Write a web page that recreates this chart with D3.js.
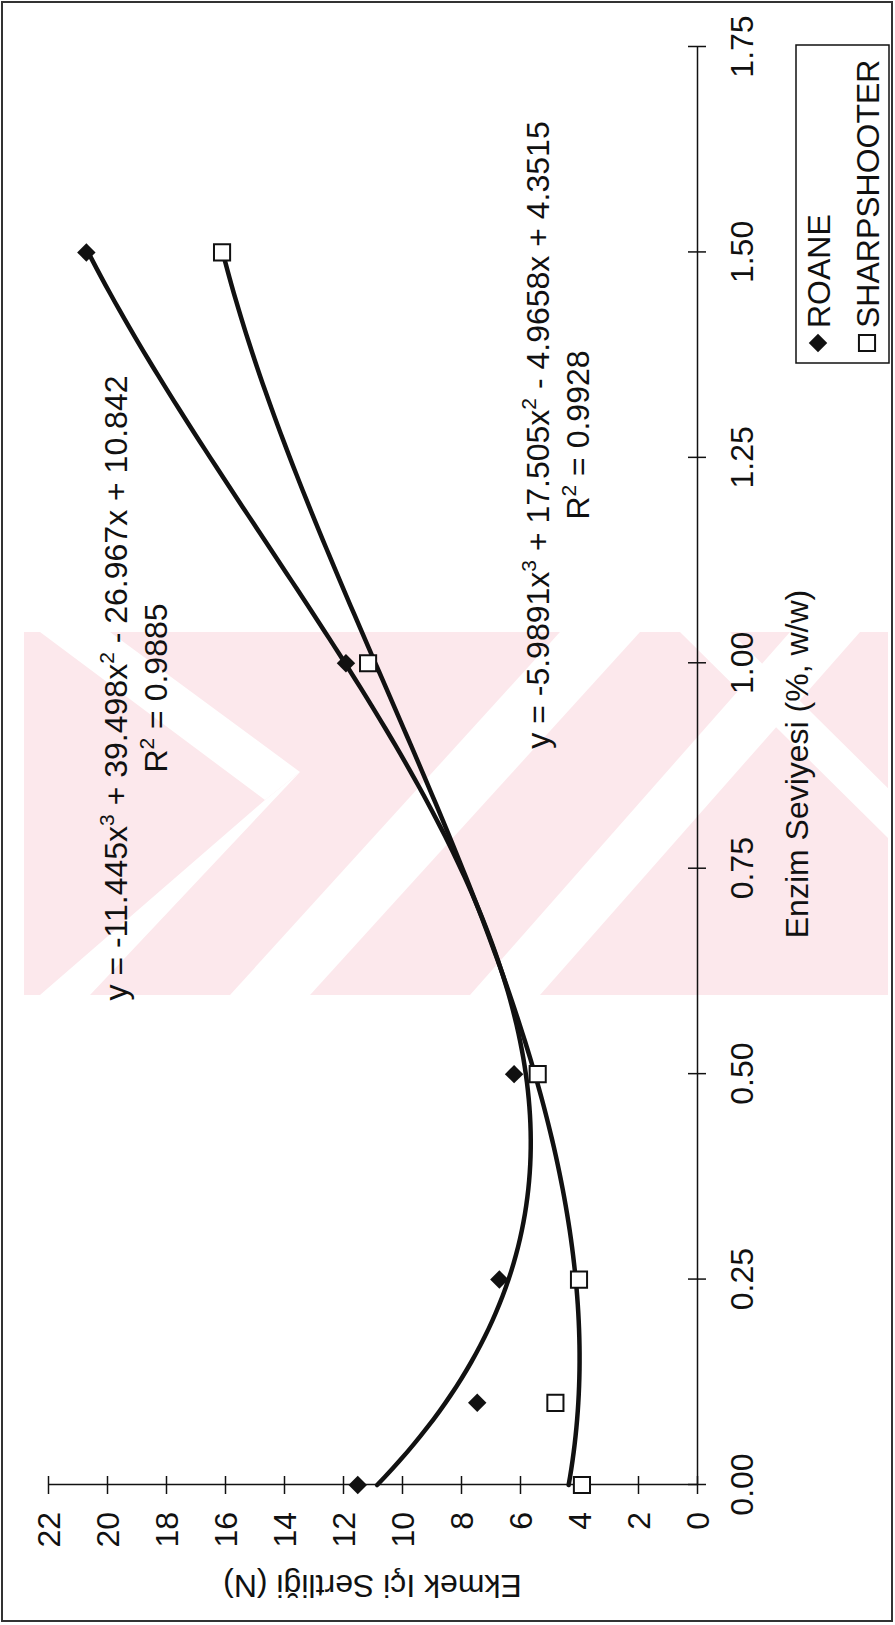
<!DOCTYPE html>
<html>
<head>
<meta charset="utf-8">
<script src="https://cdn.jsdelivr.net/npm/d3@7"></script>
<style>
  html, body { margin: 0; padding: 0; background: #fff; }
  svg { display: block; }
  text { font-family: "Liberation Sans", Arial, sans-serif; fill: #111; }
</style>
</head>
<body>
<div id="chart"></div>
<script>
// Enzyme level (% w/w) vs crumb hardness (N) for two flour varieties
const enzymeLevels = [0, 0.1, 0.25, 0.5, 1.0, 1.5];
const roaneValues = [11.5, 7.45, 6.7, 6.2, 11.9, 20.7];
const sharpshooterValues = [3.9, 4.8, 4.0, 5.4, 11.15, 16.1];

// Cubic trendline coefficients [a3, a2, a1, a0] as printed on the chart
const roaneFit = [-11.445, 39.498, -26.967, 10.842];
const sharpshooterFit = [-5.9891, 17.505, -4.9658, 4.3515];
const roaneR2 = "0.9885";
const sharpshooterR2 = "0.9928";

const xTicks = [0, 0.25, 0.5, 0.75, 1.0, 1.25, 1.5, 1.75];
const yTicks = [0, 2, 4, 6, 8, 10, 12, 14, 16, 18, 20, 22];
const seriesNames = ["ROANE", "SHARPSHOOTER"];

const W = 895, H = 1625;
const FONT = 32;

const svg = d3.select("#chart").append("svg")
  .attr("width", W).attr("height", H);

svg.append("rect").attr("width", W).attr("height", H).attr("fill", "#fff");

// faint background emblem
const wm = svg.append("g");
wm.append("clipPath").attr("id", "wmclip")
  .append("rect").attr("x", 24).attr("y", 632).attr("width", 864).attr("height", 363);
const wmg = wm.append("g").attr("clip-path", "url(#wmclip)");
wmg.append("rect").attr("x", 24).attr("y", 632).attr("width", 864).attr("height", 363).attr("fill", "#fce8ec");
const whiteBands = [
  [[40, 632], [110, 632], [300, 772], [265, 800]],
  [[265, 800], [300, 772], [90, 995], [40, 995]],
  [[560, 632], [640, 632], [310, 995], [230, 995]],
  [[790, 632], [860, 632], [540, 995], [470, 995]],
  [[680, 632], [730, 632], [900, 800], [900, 850]]
];
wmg.selectAll("path.band").data(whiteBands).join("path")
  .attr("class", "band")
  .attr("d", d => "M" + d.map(p => p.join(",")).join("L") + "Z")
  .attr("fill", "#fff");

// page border
svg.append("rect").attr("x", 2).attr("y", 2).attr("width", W - 5).attr("height", H - 6)
  .attr("fill", "none").attr("stroke", "#333").attr("stroke-width", 2);

// The chart is laid out in its own frame and turned a quarter turn counter-clockwise
const g = svg.append("g").attr("transform", `translate(0,${H}) rotate(-90)`);

const x = d3.scaleLinear().domain([0, 1.75]).range([140, 1578]);
const y = d3.scaleLinear().domain([0, 22]).range([697, 48]);

// x axis (enzyme level)
const xAxis = g.append("g").attr("transform", `translate(0,${y(0)})`)
  .call(d3.axisBottom(x).tickValues(xTicks).tickFormat(d3.format(".2f")).tickSizeInner(9).tickSizeOuter(0));
xAxis.select(".domain").attr("stroke", "#111").attr("stroke-width", 1.5);
xAxis.selectAll(".tick line").attr("y1", -9).attr("y2", 9).attr("stroke", "#111").attr("stroke-width", 1.5);
xAxis.selectAll(".tick text").attr("y", 56).attr("dy", 0)
  .style("font-size", FONT + "px").style("font-family", "Liberation Sans, Arial, sans-serif").attr("fill", "#111");

// y axis (hardness)
const yAxis = g.append("g").attr("transform", `translate(${x(0)},0)`)
  .call(d3.axisLeft(y).tickValues(yTicks).tickFormat(d3.format("d")).tickSizeInner(9).tickSizeOuter(0).tickPadding(18));
yAxis.select(".domain").attr("stroke", "#111").attr("stroke-width", 1.5);
yAxis.selectAll(".tick line").attr("x1", -9).attr("x2", 9).attr("stroke", "#111").attr("stroke-width", 1.5);
yAxis.selectAll(".tick text").attr("dy", "0.36em")
  .style("font-size", FONT + "px").style("font-family", "Liberation Sans, Arial, sans-serif").attr("fill", "#111");

// axis titles
g.append("text").attr("x", 861).attr("y", 808).attr("text-anchor", "middle")
  .style("font-size", FONT + "px").text("Enzim Seviyesi (%, w/w)");
g.append("text").attr("transform", `translate(50,${(y(0) + y(22)) / 2}) rotate(-90)`)
  .attr("text-anchor", "middle").style("font-size", FONT + "px").text("Ekmek Içi Sertliği (N)");

// trendlines
const poly = c => t => ((c[0] * t + c[1]) * t + c[2]) * t + c[3];
const fitDomain = d3.range(0, 1.5001, 0.01);
const line = d3.line().x(d => x(d[0])).y(d => y(d[1])).curve(d3.curveLinear);
[roaneFit, sharpshooterFit].forEach(c => {
  const f = poly(c);
  g.append("path").datum(fitDomain.map(t => [t, f(t)]))
    .attr("d", line).attr("fill", "none").attr("stroke", "#111")
    .attr("stroke-width", 4.5).attr("stroke-linejoin", "round").attr("stroke-linecap", "round");
});

// markers
const diamond = d3.symbol().type(d3.symbolSquare).size(170);
const square = d3.symbol().type(d3.symbolSquare).size(260);
g.selectAll("path.roane").data(enzymeLevels.map((e, i) => [e, roaneValues[i]])).join("path")
  .attr("class", "roane").attr("d", diamond)
  .attr("transform", d => `translate(${x(d[0])},${y(d[1])}) rotate(45)`)
  .attr("fill", "#111");
g.selectAll("path.sharp").data(enzymeLevels.map((e, i) => [e, sharpshooterValues[i]])).join("path")
  .attr("class", "sharp").attr("d", square)
  .attr("transform", d => `translate(${x(d[0])},${y(d[1])})`)
  .attr("fill", "#fff").attr("stroke", "#111").attr("stroke-width", 2);

// equation labels
function fmtCoef(v, first) {
  const s = Math.abs(v).toString();
  if (first) return (v < 0 ? "-" : "") + s;
  return (v < 0 ? " - " : " + ") + s;
}
function equation(c, r2, cx, by) {
  const t = g.append("text").attr("x", cx).attr("y", by).attr("text-anchor", "middle")
    .style("font-size", FONT + "px");
  t.append("tspan").text("y = " + fmtCoef(c[0], true) + "x");
  t.append("tspan").attr("dy", -13).style("font-size", "21px").text("3");
  t.append("tspan").attr("dy", 13).text(fmtCoef(c[1]) + "x");
  t.append("tspan").attr("dy", -13).style("font-size", "21px").text("2");
  t.append("tspan").attr("dy", 13).text(fmtCoef(c[2]) + "x" + fmtCoef(c[3]));
  const r = g.append("text").attr("x", cx).attr("y", by + 40).attr("text-anchor", "middle")
    .style("font-size", FONT + "px");
  r.append("tspan").text("R");
  r.append("tspan").attr("dy", -13).style("font-size", "21px").text("2");
  r.append("tspan").attr("dy", 13).text(" = " + r2);
}
equation(roaneFit, roaneR2, 937, 127);
equation(sharpshooterFit, sharpshooterR2, 1190, 549);

// legend
const lg = g.append("g");
lg.append("rect").attr("x", 1262).attr("y", 796).attr("width", 318).attr("height", 93)
  .attr("fill", "#fff").attr("stroke", "#111").attr("stroke-width", 1.5);
const rows = [818, 867];
lg.append("path").attr("d", diamond).attr("transform", `translate(1282,${rows[0]}) rotate(45)`).attr("fill", "#111");
lg.append("path").attr("d", square).attr("transform", `translate(1282,${rows[1]})`)
  .attr("fill", "#fff").attr("stroke", "#111").attr("stroke-width", 2);
seriesNames.forEach((n, i) => {
  lg.append("text").attr("x", 1297).attr("y", rows[i]).attr("dy", "0.36em")
    .style("font-size", FONT + "px").text(n);
});
</script>
</body>
</html>
